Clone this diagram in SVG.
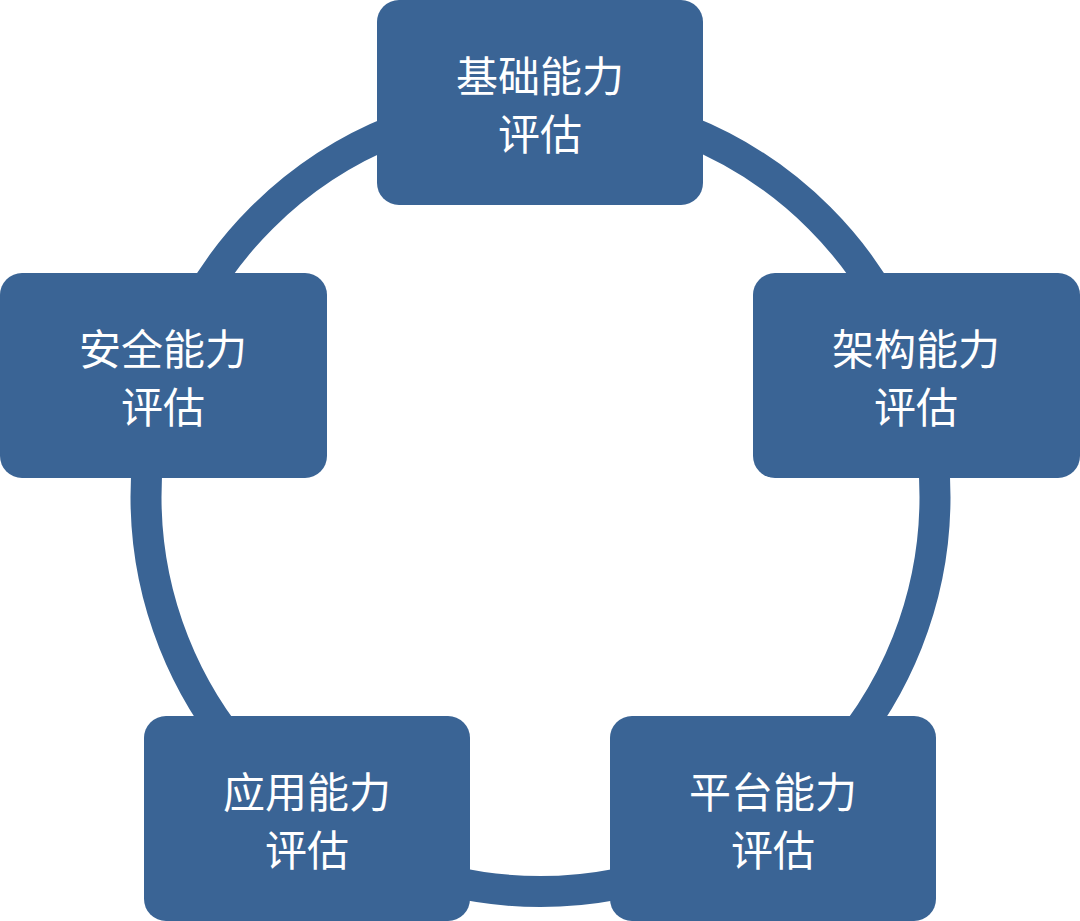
<svg xmlns="http://www.w3.org/2000/svg" width="1080" height="921" viewBox="0 0 1080 921">
<style>
.box{fill:#3a6495;}
.lbl{fill:#ffffff;font-family:"Noto Sans CJK SC","Noto Sans",sans-serif;font-size:42px;text-anchor:middle;}
</style>
<rect width="1080" height="921" fill="#ffffff"/>
<g id="connectors">
<circle cx="540.5" cy="497" r="394.5" fill="none" stroke="#3a6495" stroke-width="31"/>
</g>
<g id="node-top">
<rect class="box" x="377" y="0" width="326" height="205" rx="22"/>
<text class="lbl" x="540" y="92">基础能力</text>
<text class="lbl" x="540" y="150">评估</text>
</g>
<g id="node-left">
<rect class="box" x="0" y="273" width="327" height="205" rx="22"/>
<text class="lbl" x="163" y="365">安全能力</text>
<text class="lbl" x="163" y="423">评估</text>
</g>
<g id="node-right">
<rect class="box" x="753" y="273" width="327" height="205" rx="22"/>
<text class="lbl" x="916" y="365">架构能力</text>
<text class="lbl" x="916" y="423">评估</text>
</g>
<g id="node-bottom-left">
<rect class="box" x="144" y="716" width="326" height="205" rx="22"/>
<text class="lbl" x="307" y="808">应用能力</text>
<text class="lbl" x="307" y="866">评估</text>
</g>
<g id="node-bottom-right">
<rect class="box" x="610" y="716" width="326" height="205" rx="22"/>
<text class="lbl" x="773" y="808">平台能力</text>
<text class="lbl" x="773" y="866">评估</text>
</g>
</svg>
